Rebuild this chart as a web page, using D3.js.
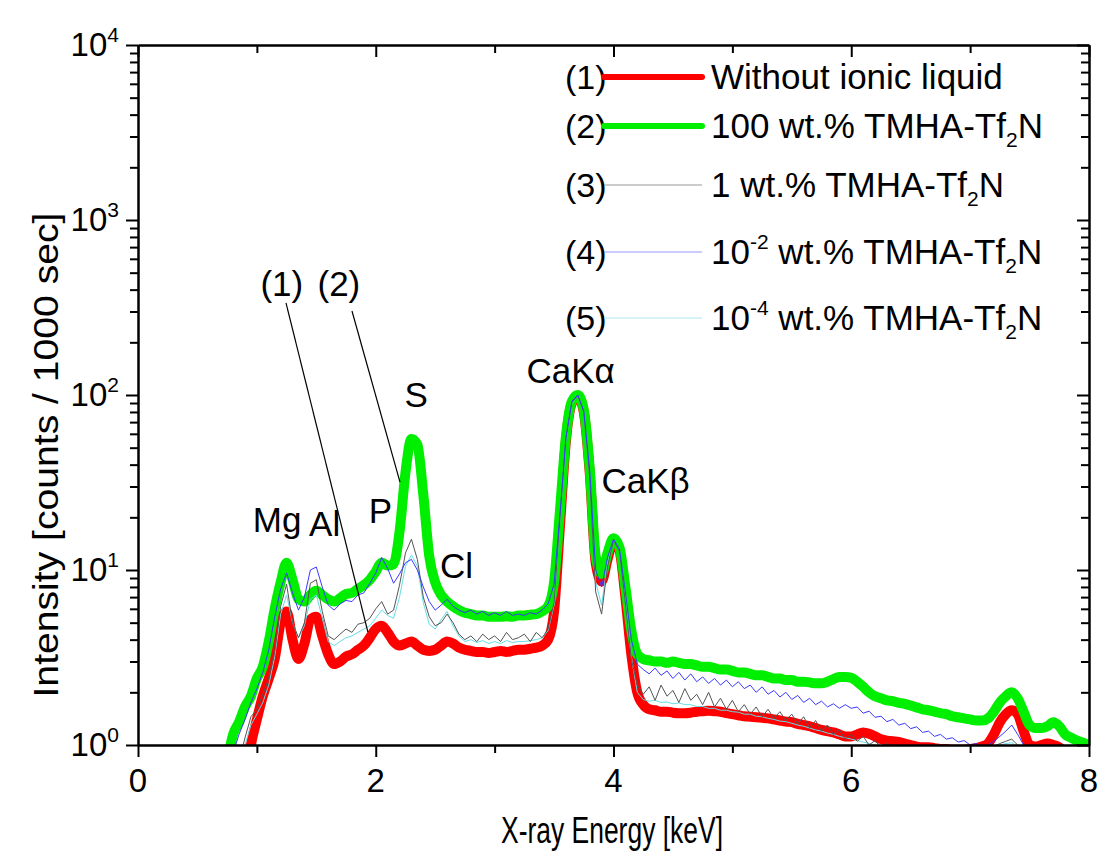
<!DOCTYPE html>
<html lang="en">
<head>
<meta charset="UTF-8">
<title>X-ray spectra</title>
<script src="https://d3js.org/d3.v7.min.js"></script>
<style>
  body { margin: 0; background: #fff; }
  svg { display: block; font-family: "Liberation Sans", Arial, sans-serif; }
</style>
</head>
<body>
<div class="main"></div>
<script>
// energy channels 0.75 .. 8.00 keV, one value every 0.05 keV
const energyStart = 0.75, energyStep = 0.05;

// (1) without ionic liquid
const withoutIL = [
  0.5, 0.5, 0.5, 0.6, 1.0, 1.4, 1.9, 2.4, 3.1, 5.0,
  5.8, 4.0, 3.1, 3.8, 5.2, 5.4, 4.2, 3.3, 2.9, 3.0,
  3.2, 3.3, 3.5, 3.7, 4.1, 4.6, 4.8, 4.4, 3.9, 3.7,
  3.8, 3.9, 3.7, 3.5, 3.45, 3.5, 3.7, 3.9, 3.8, 3.6,
  3.5, 3.45, 3.4, 3.4, 3.35, 3.4, 3.45, 3.4, 3.45, 3.5,
  3.5, 3.55, 3.6, 3.7, 4.0, 5.8, 18, 55, 90, 98,
  80, 36, 11, 8.6, 11.5, 14.8, 13, 7.0, 3.3, 2.0,
  1.7, 1.6, 1.58, 1.55, 1.55, 1.53, 1.52, 1.52, 1.53, 1.55,
  1.56, 1.57, 1.56, 1.55, 1.52, 1.5, 1.48, 1.46, 1.45, 1.44,
  1.43, 1.42, 1.4, 1.38, 1.36, 1.35, 1.32, 1.3, 1.28, 1.25,
  1.22, 1.2, 1.18, 1.15, 1.12, 1.12, 1.15, 1.18, 1.16, 1.12,
  1.08, 1.06, 1.05, 1.04, 1.02, 1.0, 0.98, 0.97, 0.97, 0.96,
  0.95, 0.95, 0.94, 0.94, 0.94, 0.95, 0.96, 0.98, 1.02, 1.15,
  1.35, 1.5, 1.58, 1.5, 1.2, 1.0, 0.98, 1.0, 1.02, 1.0,
  0.97, 0.9, 0.85, 0.8, 0.8, 0.8
];
// (2) 100 wt.%
const il100 = [
  0.8, 1.15, 1.35, 1.65, 1.9, 2.4, 2.8, 3.9, 6.0, 8.5,
  11.0, 8.8, 6.8, 6.6, 7.2, 7.6, 7.2, 6.8, 6.6, 6.9,
  7.3, 7.4, 7.8, 8.2, 8.8, 9.8, 11.0, 10.6, 10.8, 16.5,
  36, 56, 52, 27, 12, 8.5, 7.2, 6.6, 6.2, 5.9,
  5.7, 5.6, 5.5, 5.5, 5.4, 5.4, 5.4, 5.45, 5.4, 5.5,
  5.5, 5.55, 5.6, 5.8, 6.2, 8.5, 22, 58, 92, 100,
  82, 38, 12, 9.5, 12.5, 15.2, 13.5, 8.0, 4.5, 3.3,
  3.1, 3.05, 3.0, 3.0, 2.95, 3.0, 2.95, 2.9, 2.9, 2.85,
  2.8, 2.8, 2.75, 2.7, 2.7, 2.65, 2.6, 2.6, 2.55, 2.5,
  2.5, 2.45, 2.4, 2.4, 2.35, 2.35, 2.3, 2.3, 2.28, 2.25,
  2.25, 2.3, 2.38, 2.45, 2.45, 2.42, 2.3, 2.15, 2.0, 1.9,
  1.85, 1.8, 1.78, 1.74, 1.72, 1.68, 1.64, 1.6, 1.58, 1.55,
  1.52, 1.5, 1.46, 1.44, 1.42, 1.4, 1.38, 1.38, 1.42, 1.55,
  1.75, 1.9, 2.0, 1.85, 1.55, 1.3, 1.25, 1.25, 1.28, 1.35,
  1.28, 1.15, 1.1, 1.06, 1.03, 1.0
];
// (3) 1 wt.%
const il1 = [
  0.5, 0.6, 0.8, 1.1, 1.45, 1.6, 1.95, 2.4, 3.4, 6.2,
  8.3, 5.0, 4.1, 5.0, 8.4, 8.8, 5.8, 4.2, 4.0, 4.3,
  4.6, 4.4, 4.9, 5.0, 5.3, 6.0, 6.6, 5.6, 5.9, 8.2,
  12.5, 15.0, 11.5, 7.0, 5.4, 4.8, 5.0, 5.6, 5.0, 4.3,
  4.0, 4.2, 3.9, 4.3, 4.0, 4.2, 3.9, 4.4, 4.0, 4.1,
  4.3, 3.9, 4.4, 4.1, 4.6, 6.5, 20, 57, 91, 99,
  80, 34, 7.5, 5.6, 10.5, 14.8, 12.8, 6.5, 3.1, 2.2,
  1.95, 2.15, 1.8, 2.2, 1.9, 2.05, 1.75, 2.1, 1.8, 1.95,
  1.7, 2.0, 1.65, 1.85, 1.6, 1.8, 1.55, 1.7, 1.5, 1.65,
  1.45, 1.6, 1.42, 1.55, 1.38, 1.5, 1.32, 1.45, 1.25, 1.38,
  1.2, 1.3, 1.15, 1.22, 1.08, 1.15, 1.05, 1.12, 1.0, 1.06,
  0.97, 1.03, 0.95, 1.0, 0.94, 0.98, 0.93, 0.96, 0.92, 0.95,
  0.9, 0.93, 0.9, 0.92, 0.9, 0.92, 0.9, 0.92, 0.95, 0.98,
  1.02, 1.05, 1.08, 1.0, 0.92, 0.88, 0.85, 0.85, 0.85, 0.85,
  0.85, 0.85, 0.85, 0.85, 0.85, 0.85
];
// (4) 10^-2 wt.%
const ilE2 = [
  0.7, 0.9, 1.15, 1.4, 1.75, 2.1, 2.6, 3.5, 5.4, 7.8,
  9.6, 7.4, 5.9, 7.0, 10.0, 10.4, 8.0, 6.3, 5.9, 6.4,
  6.7, 6.6, 7.2, 7.4, 8.4, 9.6, 11.8, 10.2, 8.4, 9.5,
  11.0, 11.5, 10.0, 8.0, 6.6, 5.9, 6.3, 6.8, 6.2, 5.9,
  5.7, 5.9, 5.6, 5.8, 5.5, 5.7, 5.5, 5.8, 5.5, 5.6,
  5.5, 5.7, 5.6, 5.9, 6.4, 8.3, 21, 57, 92, 100,
  81, 37, 10, 8.0, 11.8, 15.0, 13.2, 7.5, 4.0, 2.9,
  2.7, 2.55, 2.75, 2.5, 2.65, 2.4, 2.6, 2.35, 2.55, 2.3,
  2.45, 2.25, 2.4, 2.2, 2.35, 2.15, 2.3, 2.1, 2.2, 2.0,
  2.15, 1.95, 2.05, 1.88, 2.0, 1.82, 1.92, 1.75, 1.85, 1.7,
  1.78, 1.65, 1.72, 1.62, 1.7, 1.62, 1.65, 1.52, 1.56, 1.44,
  1.46, 1.36, 1.4, 1.3, 1.33, 1.24, 1.27, 1.18, 1.2, 1.12,
  1.15, 1.08, 1.1, 1.04, 1.06, 1.0, 1.02, 0.97, 1.0, 1.05,
  1.12, 1.2, 1.3, 1.15, 1.0, 0.95, 0.92, 0.92, 0.9, 0.9,
  0.9, 0.9, 0.9, 0.9, 0.9, 0.9
];
// (5) 10^-4 wt.%
const ilE4 = [
  0.5, 0.6, 0.75, 1.0, 1.3, 1.5, 1.75, 2.2, 3.2, 5.6,
  7.2, 5.0, 4.1, 4.8, 6.8, 7.2, 5.3, 3.9, 3.7, 3.9,
  4.1, 4.2, 4.4, 4.6, 4.8, 5.3, 5.9, 5.5, 5.3, 7.0,
  10.5, 12.2, 10.5, 6.5, 4.9, 4.6, 5.2, 5.8, 4.8, 4.2,
  3.9, 4.0, 3.85, 3.95, 3.8, 3.9, 3.8, 3.95, 3.85, 3.9,
  3.9, 3.95, 4.0, 4.1, 4.5, 6.3, 19.5, 56, 90, 99,
  80, 35, 8.5, 6.3, 11, 14.9, 13, 6.8, 3.2, 2.0,
  1.82, 1.78, 1.8, 1.75, 1.76, 1.72, 1.74, 1.7, 1.7, 1.66,
  1.66, 1.62, 1.62, 1.58, 1.58, 1.55, 1.54, 1.5, 1.5, 1.46,
  1.45, 1.42, 1.4, 1.37, 1.36, 1.33, 1.3, 1.28, 1.25, 1.22,
  1.2, 1.17, 1.15, 1.12, 1.1, 1.08, 1.06, 1.04, 1.02, 1.0,
  0.98, 0.97, 0.96, 0.95, 0.95, 0.94, 0.94, 0.93, 0.93, 0.92,
  0.92, 0.92, 0.92, 0.92, 0.92, 0.92, 0.92, 0.93, 0.95, 0.98,
  1.0, 1.02, 1.03, 0.98, 0.92, 0.9, 0.9, 0.9, 0.9, 0.9,
  0.9, 0.9, 0.9, 0.9, 0.9, 0.9
];

const xTicks = [0, 2, 4, 6, 8];
const yExponents = [0, 1, 2, 3, 4];

// peak labels: [text, energy keV, intensity at baseline]
const peakLabels = [
  ["Mg", 1.17, 16.5], ["Al", 1.57, 15.6], ["P", 2.04, 18.5], ["S", 2.34, 85],
  ["Cl", 2.68, 9.0], ["CaK\u03b1", 3.64, 117], ["CaK\u03b2", 4.27, 27.5],
  ["(1)", 1.21, 368], ["(2)", 1.69, 368]
];
// leader lines [E1, I1, E2, I2]
const leaders = [[1.245, 336, 1.934, 4.42], [1.80, 302, 2.204, 31.8]];

const legendNums = ["(1)", "(2)", "(3)", "(4)", "(5)"];
const legendText = [
  [["Without ionic liquid", ""]],
  [["100 wt.% TMHA-Tf", ""], ["2", "sub"], ["N", ""]],
  [["1 wt.% TMHA-Tf", ""], ["2", "sub"], ["N", ""]],
  [["10", ""], ["-2", "sup"], [" wt.% TMHA-Tf", ""], ["2", "sub"], ["N", ""]],
  [["10", ""], ["-4", "sup"], [" wt.% TMHA-Tf", ""], ["2", "sub"], ["N", ""]]
];

const width = 1105, height = 861;
const plotLeft = 138, plotRight = 1089, plotTop = 45, plotBottom = 745;

const svg = d3.select(".main").append("svg").attr("width", width).attr("height", height);

const x = d3.scaleLinear().domain([0, 8]).range([plotLeft, plotRight]);
const y = d3.scaleLog().domain([1, 1e4]).range([plotBottom, plotTop]);

svg.append("clipPath").attr("id", "plotclip").append("rect")
  .attr("x", plotLeft).attr("y", plotTop - 10).attr("width", plotRight - plotLeft).attr("height", plotBottom - plotTop + 10);

const styles = [
  {data: withoutIL, color: "#ff0000", w: 10},
  {data: il100, color: "#00ee00", w: 10},
  {data: il1, color: "#555555", w: 1},
  {data: ilE2, color: "#3a3aff", w: 1},
  {data: ilE4, color: "#66dde8", w: 1}
];
const legendColors = ["#ff0000", "#00ee00", "#9a9a9a", "#9a9aff", "#aeeaf2"];

const plot = svg.append("g").attr("clip-path", "url(#plotclip)");
const drawOrder = [0, 1, 4, 2, 3];
drawOrder.forEach(function(si) {
  const s = styles[si];
  const line = d3.line()
    .x((d, i) => x(energyStart + i * energyStep))
    .y(d => y(Math.max(d, 0.3)))
    .curve(s.w > 2 ? d3.curveMonotoneX : d3.curveLinear);
  plot.append("path").attr("d", line(s.data))
    .attr("fill", "none").attr("stroke", s.color).attr("stroke-width", s.w)
    .attr("stroke-linejoin", "round").attr("stroke-linecap", "round");
});

// clean white band below the x axis (thick strokes bleed)
svg.append("rect").attr("x", plotLeft - 6).attr("y", plotBottom + 1).attr("width", plotRight - plotLeft + 12).attr("height", 8).attr("fill", "#fff");

// axes
const bAxis = svg.append("g").attr("transform", `translate(0,${plotBottom})`)
  .call(d3.axisBottom(x).tickValues(d3.range(0, 9, 1)).tickSize(0).tickFormat(""));
bAxis.selectAll(".tick line").attr("y2", d => d % 2 === 0 ? 12 : 8);
const tAxis = svg.append("g").attr("transform", `translate(0,${plotTop})`)
  .call(d3.axisTop(x).tickValues(d3.range(0, 9, 1)).tickSize(0).tickFormat(""));
tAxis.selectAll(".tick line").attr("y2", d => d % 2 === 0 ? 12 : 8);

const minorY = [];
yExponents.slice(0, 4).forEach(e => { for (let m = 2; m < 10; m++) minorY.push(m * Math.pow(10, e)); });
const majorY = yExponents.map(e => Math.pow(10, e));

[plotLeft, plotRight].forEach(function(px) {
  const g = svg.append("g").attr("transform", `translate(${px},0)`);
  g.call(d3.axisLeft(y).tickValues(majorY.concat(minorY)).tickSize(0).tickFormat(""));
  g.selectAll(".tick line").attr("x2", d => (majorY.indexOf(d) >= 0 ? -12 : -8));
});

svg.selectAll(".domain").attr("stroke", "#000").attr("stroke-width", 2.5);
svg.selectAll(".tick line").attr("stroke", "#000").attr("stroke-width", 2);

// x tick labels
svg.selectAll(".xlab").data(xTicks).enter().append("text")
  .attr("x", d => x(d)).attr("y", plotBottom + 47).attr("text-anchor", "middle")
  .style("font-size", "33px").text(d => d);

// y tick labels 10^n
yExponents.forEach(function(e) {
  const t = svg.append("text").attr("x", 119).attr("y", y(Math.pow(10, e)) + 11)
    .attr("text-anchor", "end").style("font-size", "33px");
  t.append("tspan").text("10");
  t.append("tspan").attr("dy", -14).style("font-size", "21px").text(e);
});

// axis titles
svg.append("text").attr("x", 612).attr("y", 843).attr("text-anchor", "middle")
  .style("font-family", "'Liberation Sans Narrow', 'Liberation Sans', Arial, sans-serif")
  .style("font-size", "36px").attr("textLength", 222).attr("lengthAdjust", "spacingAndGlyphs")
  .text("X-ray Energy [keV]");
svg.append("text").attr("transform", `translate(58,${(plotTop + plotBottom) / 2 + 60}) rotate(-90)`)
  .attr("text-anchor", "middle")
  .style("font-family", "'Liberation Sans Narrow', 'Liberation Sans', Arial, sans-serif")
  .style("font-size", "35px").attr("textLength", 485).attr("lengthAdjust", "spacingAndGlyphs")
  .text("Intensity [counts / 1000 sec]");

// peak labels and leaders
leaders.forEach(function(l) {
  svg.append("line").attr("x1", x(l[0])).attr("y1", y(l[1])).attr("x2", x(l[2])).attr("y2", y(l[3]))
    .attr("stroke", "#000").attr("stroke-width", 1.2);
});
peakLabels.forEach(function(p) {
  svg.append("text").attr("x", x(p[1])).attr("y", y(p[2])).attr("text-anchor", "middle")
    .style("font-size", "35px").text(p[0]);
});

// legend
const legendY = [77, 126, 185, 252, 318];
legendNums.forEach(function(n, i) {
  const g = svg.append("g").attr("transform", `translate(0,${legendY[i]})`);
  g.append("text").attr("x", 565).attr("y", 12).style("font-size", "34px").text(n);
  g.append("line").attr("x1", 604).attr("x2", 702).attr("y1", 0).attr("y2", 0)
    .attr("stroke", legendColors[i]).attr("stroke-width", i < 2 ? 6 : 1.2)
    .attr("stroke-linecap", i < 2 ? "round" : "butt");
  const t = g.append("text").attr("x", 711).attr("y", 12).style("font-size", "35px");
  legendText[i].forEach(function(part, j) {
    const sp = t.append("tspan").text(part[0]);
    if (part[1] === "sub") sp.attr("dy", 9).style("font-size", "21px");
    else if (part[1] === "sup") sp.attr("dy", -15).style("font-size", "21px");
    else if (j > 0) {
      const prev = legendText[i][j - 1][1];
      sp.attr("dy", prev === "sub" ? -9 : prev === "sup" ? 15 : 0);
    }
  });
});
</script>
</body>
</html>
